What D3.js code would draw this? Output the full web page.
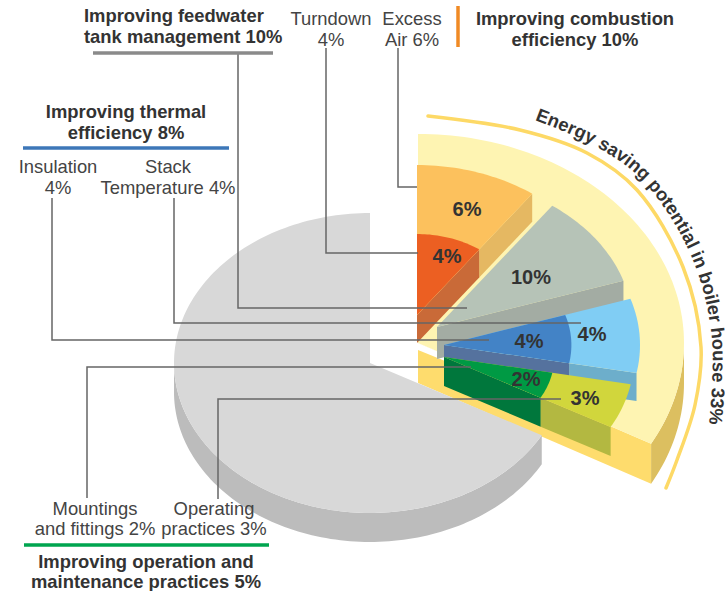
<!DOCTYPE html>
<html>
<head>
<meta charset="utf-8">
<script src="https://cdn.jsdelivr.net/npm/d3@7"></script>
<style>
  html, body { margin: 0; background: #fff; }
  svg { display: block; }
  text { font-family: "Liberation Sans", Arial, sans-serif; }
</style>
</head>
<body>
<svg id="chart" width="725" height="591"></svg>
<script>
// Energy saving shares, in percent of boiler house consumption
const groupNames = ["combustion", "feedwater", "thermal", "operation"];
const groupShares = [10, 10, 8, 5];
const innerShares = [4, 10, 4, 2];
const outerShares = [6, 0, 4, 3];
const remainingShare = 67;

// Colours, one per group
const innerTop = ["#ec5f22", "#b6c3b7", "#4383c6", "#009a44"];
const outerTop = ["#fcc15d", "#b6c3b7", "#80cdf4", "#d1d63c"];
const innerSide = ["#c96a38", "#a3aca3", "#55729e", "#00773c"];
const outerSide = ["#e5b862", "#a3aca3", "#6daecb", "#b3b841"];

// Exploded layout of each group on the 33% platter
const groupOrigin = [[417, 315], [437, 327], [444, 345], [444, 357]];
const groupDepth = [28, 32, 28, 29];
const innerReach = [0.54, 1, 0.65, 0.58];
const outerReach = [1, 1, 1, 0.97];

const radius = d3.scaleLinear().domain([0, 1]).range([0, 196]);
const tilt = 0.765;

const svg = d3.select("#chart");
const line = d3.line();
const smooth = d3.line().curve(d3.curveCatmullRom);

// Pie angles run clockwise from twelve o'clock
const pie = d3.pie().sort(null).value(d => d);
const groupArcs = pie([...groupShares, remainingShare]);
const restArc = groupArcs[groupArcs.length - 1];
const platterEnd = groupArcs[groupArcs.length - 2].endAngle;

const project = (o, a, r, k = tilt, lift = 0) =>
  [o[0] + Math.sin(a) * r, o[1] - Math.cos(a) * r * k + lift];

function arcPoints(o, a0, a1, r, k = tilt, lift = 0) {
  const n = Math.max(2, Math.ceil((a1 - a0) * 40));
  return d3.range(n + 1).map(i => project(o, a0 + (a1 - a0) * i / n, r, k, lift));
}

function sector(o, a0, a1, r, k = tilt) {
  return line([o, ...arcPoints(o, a0, a1, r, k)]) + "Z";
}

function wall(o, a, r0, r1, depth, k = tilt) {
  return line([
    project(o, a, r0, k), project(o, a, r1, k),
    project(o, a, r1, k, depth), project(o, a, r0, k, depth)
  ]) + "Z";
}

function rim(o, a0, a1, r, depth, k = tilt) {
  return line([
    ...arcPoints(o, a0, a1, r, k),
    ...arcPoints(o, a0, a1, r, k, depth).reverse()
  ]) + "Z";
}

const fillPath = (d, fill) => svg.append("path").attr("d", d).attr("fill", fill);

// Platter holding the 33% slice
const platterOrigin = [418, 343];
const platterR = 266, platterTilt = 0.786, platterDepth = 40;
fillPath(wall(platterOrigin, platterEnd, 0, platterR, platterDepth, platterTilt), "#fedc6d");
fillPath(rim(platterOrigin, Math.PI / 2, platterEnd, platterR, platterDepth, platterTilt), "#dcbf60");
fillPath(sector(platterOrigin, 0, platterEnd, platterR, platterTilt), "#fef4b2");
// Small gap where the platter top meets its wall
fillPath(line([
  project(platterOrigin, platterEnd, 0, platterTilt),
  project(platterOrigin, platterEnd, 90, platterTilt),
  project(platterOrigin, platterEnd, 90, platterTilt, 5),
  project(platterOrigin, platterEnd, 0, platterTilt, 7)
]) + "Z", "#fff");

// Thin arc around the platter, with its caption running along the outside
const ringGuide = [[428, 116], [520, 130], [587, 153], [637, 190], [683, 267], [701, 347], [695, 405], [677, 460], [666, 488]];
const captionGuide = [[535, 120], [595, 146], [644, 182], [692, 258], [712, 340], [708, 436]];
svg.append("path")
  .attr("d", smooth(ringGuide))
  .attr("fill", "none").attr("stroke", "#fdd966").attr("stroke-width", 3.5)
  .attr("stroke-linecap", "round");

svg.append("defs").append("path").attr("id", "captionArc")
  .attr("d", smooth(captionGuide));
svg.append("text").attr("fill", "#333").attr("font-size", 18.4).attr("font-weight", "bold")
  .append("textPath").attr("href", "#captionArc")
  .text("Energy saving potential in boiler house 33%");

// The four raised slices, back to front
groupNames.forEach((name, i) => {
  const { startAngle: a0, endAngle: a1 } = groupArcs[i];
  const o = groupOrigin[i];
  const depth = groupDepth[i];
  const outer = radius(outerReach[i]);
  const inner = radius(innerReach[i] * outerReach[i]);
  if (outerShares[i] > 0) {
    fillPath(wall(o, a1, inner, outer, depth), outerSide[i]);
  }
  fillPath(wall(o, a1, 0, inner, depth), innerSide[i]);
  if (outerShares[i] > 0) {
    fillPath(sector(o, a0, a1, outer), outerTop[i]);
  }
  fillPath(sector(o, a0, a1, inner), innerTop[i]);
});

// Remaining share of the pie
const restOrigin = [370, 363];
const restDepth = 29;
fillPath(rim(restOrigin, restArc.startAngle, Math.PI * 1.5, radius(1), restDepth), "#bcbcbc");
fillPath(sector(restOrigin, restArc.startAngle, restArc.endAngle, radius(1)), "#d8d8d8");

// Leader lines from the captions into each slice
const leaders = [
  [[398, 48], [398, 187], [417, 187]],
  [[326, 48], [326, 253], [418, 253]],
  [[238, 53], [238, 308], [467, 308]],
  [[174, 198], [174, 323], [581, 323]],
  [[52, 198], [52, 340], [489, 340]],
  [[87, 498], [87, 367], [471, 367]],
  [[218, 499], [218, 399], [561, 399]]
];
svg.append("g").selectAll("path").data(leaders).join("path")
  .attr("d", d => line(d)).attr("fill", "none")
  .attr("stroke", "#666").attr("stroke-width", 1.5);

// Bars under the group headings
const bars = [
  { x1: 93, y1: 53, x2: 273, y2: 53, c: "#8a8a8a" },
  { x1: 23, y1: 148, x2: 229, y2: 148, c: "#3d77b8" },
  { x1: 24, y1: 545, x2: 269, y2: 545, c: "#00a54f" },
  { x1: 458, y1: 6, x2: 458, y2: 47, c: "#f08a24" }
];
svg.append("g").selectAll("line").data(bars).join("line")
  .attr("x1", d => d.x1).attr("y1", d => d.y1)
  .attr("x2", d => d.x2).attr("y2", d => d.y2)
  .attr("stroke", d => d.c).attr("stroke-width", 3.5);

// Percent labels on the slices
const sliceLabels = ["6%", "4%", "10%", "4%", "4%", "2%", "3%"];
const sliceLabelAt = [[467, 216], [447, 263], [531, 284], [529, 348], [592, 341], [526, 386], [585, 405]];
svg.append("g").selectAll("text").data(sliceLabels).join("text")
  .attr("x", (d, i) => sliceLabelAt[i][0]).attr("y", (d, i) => sliceLabelAt[i][1])
  .attr("text-anchor", "middle").attr("fill", "#333")
  .attr("font-size", 20).attr("font-weight", "bold").text(d => d);

// Captions
const headings = [
  ["Improving feedwater", 84, 22, "start"], ["tank management 10%", 84, 43, "start"],
  ["Improving combustion", 575, 25, "middle"], ["efficiency 10%", 575, 46, "middle"],
  ["Improving thermal", 126, 118, "middle"], ["efficiency 8%", 126, 139, "middle"],
  ["Improving operation and", 146, 568, "middle"], ["maintenance practices 5%", 146, 588, "middle"]
];
const captions = [
  ["Turndown", 331, 25], ["4%", 331, 46],
  ["Excess", 412, 25], ["Air 6%", 412, 46],
  ["Insulation", 58, 173], ["4%", 58, 194],
  ["Stack", 168, 173], ["Temperature 4%", 168, 194],
  ["Mountings", 95, 515], ["and fittings 2%", 95, 535],
  ["Operating", 214, 515], ["practices 3%", 214, 535]
];
svg.append("g").selectAll("text").data(headings).join("text")
  .attr("x", d => d[1]).attr("y", d => d[2]).attr("text-anchor", d => d[3])
  .attr("fill", "#333").attr("font-size", 18.4).attr("font-weight", "bold").text(d => d[0]);
svg.append("g").selectAll("text").data(captions).join("text")
  .attr("x", d => d[1]).attr("y", d => d[2]).attr("text-anchor", "middle")
  .attr("fill", "#444").attr("font-size", 18.4).text(d => d[0]);
</script>
</body>
</html>
